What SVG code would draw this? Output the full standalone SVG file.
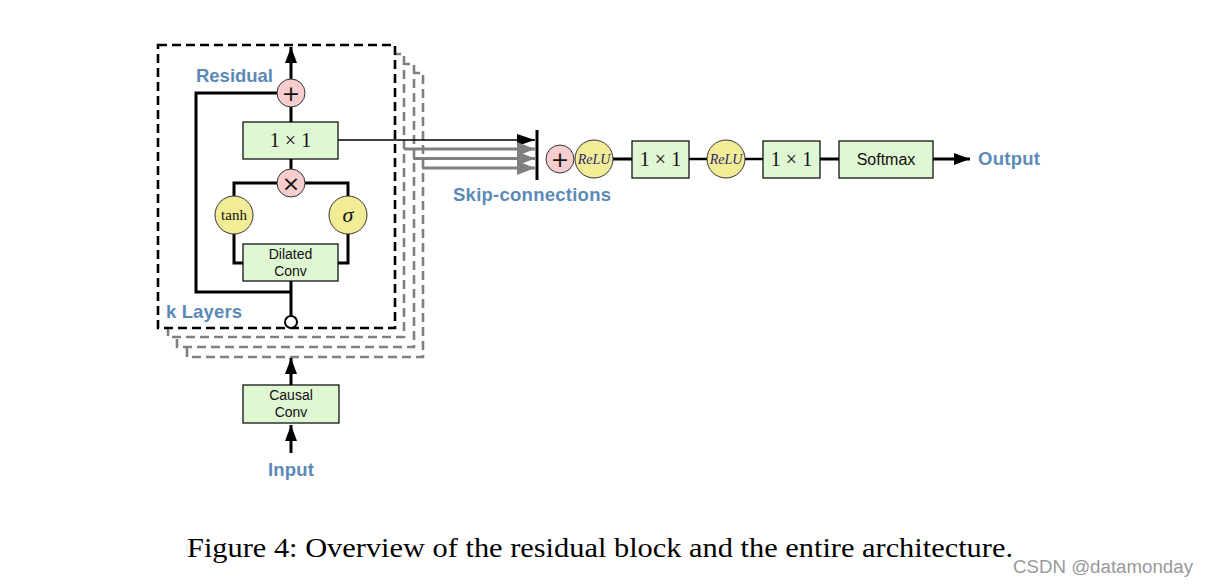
<svg xmlns="http://www.w3.org/2000/svg" width="1208" height="586" viewBox="0 0 1208 586">
<style>
.lbl{font-family:"Liberation Sans",Arial,sans-serif;font-weight:bold;font-size:18.5px;fill:#5b8ab8}
.box{fill:#e0f7d4;stroke:#000;stroke-width:1.2}
.pink{fill:#f8cdcd;stroke:#333;stroke-width:1}
.yel{fill:#f3ec96;stroke:#333;stroke-width:1}
.math{font-family:"Liberation Serif","Times New Roman",serif;font-size:20px;fill:#111;text-anchor:middle}
.sym{font-family:"DejaVu Sans",sans-serif;font-size:22px;fill:#111;text-anchor:middle}
.sans{font-family:"Liberation Sans",Arial,sans-serif;font-size:14px;fill:#111;text-anchor:middle}
.relu{font-family:"Liberation Serif","Times New Roman",serif;font-style:italic;font-size:14px;fill:#2a2a70;text-anchor:middle}
.w{fill:none;stroke:#000;stroke-width:3}
.thin{fill:none;stroke:#000;stroke-width:1.5}
.gl{fill:none;stroke:#808080;stroke-width:3}
.dk{fill:#fff;stroke:#000;stroke-width:2.6;stroke-dasharray:9 5}
.dg{fill:#fff;stroke:#808080;stroke-width:2.6;stroke-dasharray:9 5}
</style>
<defs>
<marker id="ah" viewBox="0 0 16 12" refX="16" refY="6" markerWidth="16" markerHeight="12" markerUnits="userSpaceOnUse" orient="auto"><path d="M0,0 L16,6 L0,12 Z" fill="#000"/></marker>
<marker id="ahs" viewBox="0 0 18 12" refX="18" refY="6" markerWidth="18" markerHeight="12" markerUnits="userSpaceOnUse" orient="auto"><path d="M0,0 L18,6 L0,12 Z" fill="#000"/></marker>
<marker id="ahg" viewBox="0 0 18 14" refX="18" refY="7" markerWidth="18" markerHeight="14" markerUnits="userSpaceOnUse" orient="auto"><path d="M0,0 L18,7 L0,14 Z" fill="#808080"/></marker>
</defs>
<rect width="1208" height="586" fill="#fff"/>
<g id="layers">
<rect class="dg" x="187" y="73" width="236" height="284"/>
<rect class="dg" x="177" y="64" width="237" height="283"/>
<rect class="dg" x="168" y="54" width="236" height="283"/>
<rect class="dk" x="158" y="45" width="237" height="283"/>
</g>
<g id="connectors">
<path class="w" d="M291,79 V47" marker-end="url(#ah)"/>
<path class="w" d="M278,93 H196 V292 H291"/>
<path class="w" d="M291,107 V122"/>
<path class="w" d="M291,159 V169"/>
<path class="w" d="M278,183 H234 V196"/>
<path class="w" d="M305,183 H348 V196"/>
<path class="w" d="M234,234 V263 H243"/>
<path class="w" d="M348,234 V263 H338"/>
<path class="w" d="M291,281 V316"/>
<path class="w" d="M291,385 V358" marker-end="url(#ah)"/>
<path class="w" d="M291,453 V425" marker-end="url(#ah)"/>
<path class="thin" d="M338,140 H535" marker-end="url(#ahs)"/>
<path class="gl" d="M404,149 H535" marker-end="url(#ahg)"/>
<path class="gl" d="M413,158.5 H535" marker-end="url(#ahg)"/>
<path class="gl" d="M422,168 H535" marker-end="url(#ahg)"/>
<path d="M537,130 V180" stroke="#000" stroke-width="3" fill="none"/>
<path class="w" d="M613,159 H632"/>
<path d="M689,159 H707" stroke="#000" stroke-width="2.5"/>
<path d="M745,159 H763" stroke="#000" stroke-width="2.5"/>
<path class="w" d="M820,159 H839"/>
<path class="w" d="M933,159 H970" marker-end="url(#ah)"/>
</g>
<g id="sum-res"><circle class="pink" cx="291" cy="93" r="14"/><text class="sym" x="291" y="101">+</text></g>
<g id="conv1x1-res"><rect class="box" x="243" y="122" width="95" height="37"/><text class="math" x="290.5" y="147">1 × 1</text></g>
<g id="mult"><circle class="pink" cx="291" cy="183" r="14"/><text class="sym" x="291" y="191">×</text></g>
<g id="tanh"><circle class="yel" cx="234" cy="215" r="19"/><text class="math" x="234" y="220" style="font-size:15px">tanh</text></g>
<g id="sigma"><circle class="yel" cx="348" cy="215" r="19"/><text class="math" x="348" y="222" style="font-size:22px;font-style:italic">σ</text></g>
<g id="dilated"><rect class="box" x="243" y="244" width="95" height="37"/><text class="sans" x="290.5" y="259">Dilated</text><text class="sans" x="290.5" y="276">Conv</text></g>
<g id="junction"><circle cx="291" cy="322" r="6" fill="#fff" stroke="#000" stroke-width="2"/></g>
<g id="causal"><rect class="box" x="243" y="385" width="96" height="38"/><text class="sans" x="291" y="400">Causal</text><text class="sans" x="291" y="417">Conv</text></g>
<g id="sum-skip"><circle class="pink" cx="560" cy="159" r="14"/><text class="sym" x="560" y="167">+</text></g>
<g id="relu1"><circle class="yel" cx="594" cy="159" r="19"/><text class="relu" x="594" y="164">ReLU</text></g>
<g id="conv1x1-a"><rect class="box" x="632" y="141" width="57" height="37"/><text class="math" x="660.5" y="166">1 × 1</text></g>
<g id="relu2"><circle class="yel" cx="726" cy="159" r="19"/><text class="relu" x="726" y="164">ReLU</text></g>
<g id="conv1x1-b"><rect class="box" x="763" y="141" width="57" height="37"/><text class="math" x="791.5" y="166">1 × 1</text></g>
<g id="softmax"><rect class="box" x="839" y="141" width="94" height="37"/><text class="sans" x="886" y="165" style="font-size:16px">Softmax</text></g>
<g id="labels">
<text class="lbl" x="196" y="82" textLength="77">Residual</text>
<text class="lbl" x="166" y="318" textLength="76">k Layers</text>
<text class="lbl" x="453" y="201" textLength="158">Skip-connections</text>
<text class="lbl" x="978" y="165" textLength="62">Output</text>
<text class="lbl" x="268" y="476" textLength="46">Input</text>
</g>
<text x="187" y="557" font-family="Liberation Serif,'Times New Roman',serif" font-size="28" fill="#000" textLength="826" lengthAdjust="spacingAndGlyphs">Figure 4: Overview of the residual block and the entire architecture.</text>
<text x="1013" y="573" font-family="Liberation Sans,Arial,sans-serif" font-size="18" fill="#999" textLength="180" lengthAdjust="spacingAndGlyphs">CSDN @datamonday</text>
</svg>
